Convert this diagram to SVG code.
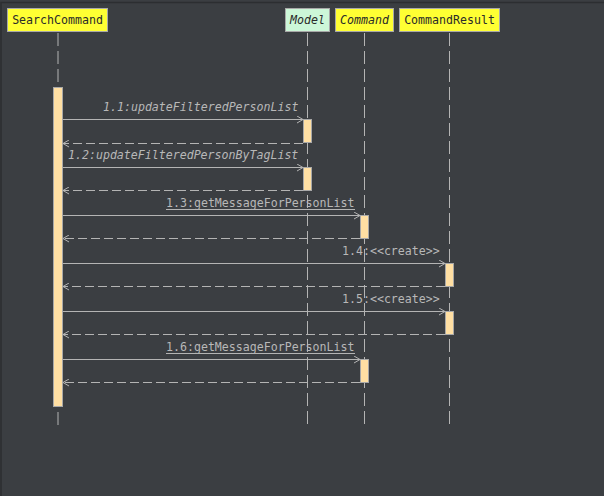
<svg xmlns="http://www.w3.org/2000/svg" width="604" height="496" viewBox="0 0 604 496">
  <style>
    .bg { fill: #3b3e42; }
    .frame { fill: none; stroke: #2c2e31; stroke-width: 1.5; }
    .head { stroke: #a8a8a8; stroke-width: 1; }
    .head-label { font-family: "DejaVu Sans Mono", monospace; font-size: 11.6px; fill: #2a2a2a; text-anchor: middle; }
    .life { stroke: #b4b4b4; stroke-width: 1; stroke-dasharray: 13 5; fill: none; }
    .act { fill: #ffdfa3; stroke: #a8a8a8; stroke-width: 1; }
    .msg { stroke: #b4b4b4; stroke-width: 1; fill: none; }
    .ret { stroke: #b4b4b4; stroke-width: 1; fill: none; stroke-dasharray: 9 4; }
    .lbl { font-family: "DejaVu Sans Mono", monospace; font-size: 11.6px; fill: #b8b8b8; }
    .it { font-style: italic; }
  </style>
  <defs>
    <marker id="open" viewBox="0 0 8 8" refX="7" refY="4" markerWidth="8" markerHeight="8" markerUnits="userSpaceOnUse" orient="auto">
      <path d="M1,0.5 L7,4 L1,7.5" fill="none" stroke="#b4b4b4" stroke-width="1"/>
    </marker>
  </defs>

  <rect class="bg" width="604" height="496"/>
  <rect class="frame" x="1" y="2.5" width="610" height="500"/>

  <!-- lifelines -->
  <g id="lifelines">
    <line class="life" x1="58" y1="33" x2="58" y2="87"/>
    <line class="life" x1="58" y1="412" x2="58" y2="425"/>
    <line class="life" x1="307.5" y1="33" x2="307.5" y2="425"/>
    <line class="life" x1="364.5" y1="33" x2="364.5" y2="425"/>
    <line class="life" x1="449.5" y1="33" x2="449.5" y2="425"/>
  </g>

  <!-- participants -->
  <g id="searchCommand">
    <rect class="head" x="7.5" y="8.5" width="100" height="23" fill="#ffff33"/>
    <text class="head-label" x="57.5" y="24">SearchCommand</text>
  </g>
  <g id="model">
    <rect class="head" x="285.5" y="8.5" width="44" height="23" fill="#ccf7d8"/>
    <text class="head-label it" x="307.5" y="24">Model</text>
  </g>
  <g id="command">
    <rect class="head" x="335.5" y="8.5" width="58" height="23" fill="#ffff33"/>
    <text class="head-label it" x="364.5" y="24">Command</text>
  </g>
  <g id="commandResult">
    <rect class="head" x="399.5" y="8.5" width="100" height="23" fill="#ffff33"/>
    <text class="head-label" x="449.5" y="24">CommandResult</text>
  </g>

  <!-- activation bars -->
  <g id="activations">
    <rect class="act" x="53.5" y="87.5" width="9" height="319"/>
    <rect class="act" x="303.5" y="119.5" width="8" height="23"/>
    <rect class="act" x="303.5" y="167.5" width="8" height="23"/>
    <rect class="act" x="360.5" y="215.5" width="8" height="23"/>
    <rect class="act" x="445.5" y="263.5" width="8" height="23"/>
    <rect class="act" x="445.5" y="311.5" width="8" height="23"/>
    <rect class="act" x="360.5" y="359.5" width="8" height="23"/>
  </g>

  <!-- messages and returns -->
  <g id="connectors">
    <line class="msg" x1="63" y1="119.5" x2="303" y2="119.5" marker-end="url(#open)"/>
    <line class="ret" x1="303" y1="143.5" x2="63" y2="143.5" marker-end="url(#open)"/>
    <line class="msg" x1="63" y1="167.5" x2="303" y2="167.5" marker-end="url(#open)"/>
    <line class="ret" x1="303" y1="190.5" x2="63" y2="190.5" marker-end="url(#open)"/>
    <line class="msg" x1="63" y1="215.5" x2="360" y2="215.5" marker-end="url(#open)"/>
    <line class="ret" x1="360" y1="238.5" x2="63" y2="238.5" marker-end="url(#open)"/>
    <line class="msg" x1="63" y1="263.5" x2="445" y2="263.5" marker-end="url(#open)"/>
    <line class="ret" x1="445" y1="286.5" x2="63" y2="286.5" marker-end="url(#open)"/>
    <line class="msg" x1="63" y1="311.5" x2="445" y2="311.5" marker-end="url(#open)"/>
    <line class="ret" x1="445" y1="334.5" x2="63" y2="334.5" marker-end="url(#open)"/>
    <line class="msg" x1="63" y1="359.5" x2="360" y2="359.5" marker-end="url(#open)"/>
    <line class="ret" x1="360" y1="382.5" x2="63" y2="382.5" marker-end="url(#open)"/>

    <text class="lbl it" x="103" y="111">1.1:updateFilteredPersonList</text>
    <text class="lbl it" x="68" y="159">1.2:updateFilteredPersonByTagList</text>
    <text class="lbl" x="166" y="207">1.3:getMessageForPersonList</text>
    <line class="msg" x1="166" y1="209.5" x2="355" y2="209.5"/>
    <text class="lbl" x="342" y="255">1.4:&lt;&lt;create&gt;&gt;</text>
    <text class="lbl" x="342" y="303">1.5:&lt;&lt;create&gt;&gt;</text>
    <text class="lbl" x="166" y="351">1.6:getMessageForPersonList</text>
    <line class="msg" x1="166" y1="353.5" x2="355" y2="353.5"/>
  </g>
</svg>
